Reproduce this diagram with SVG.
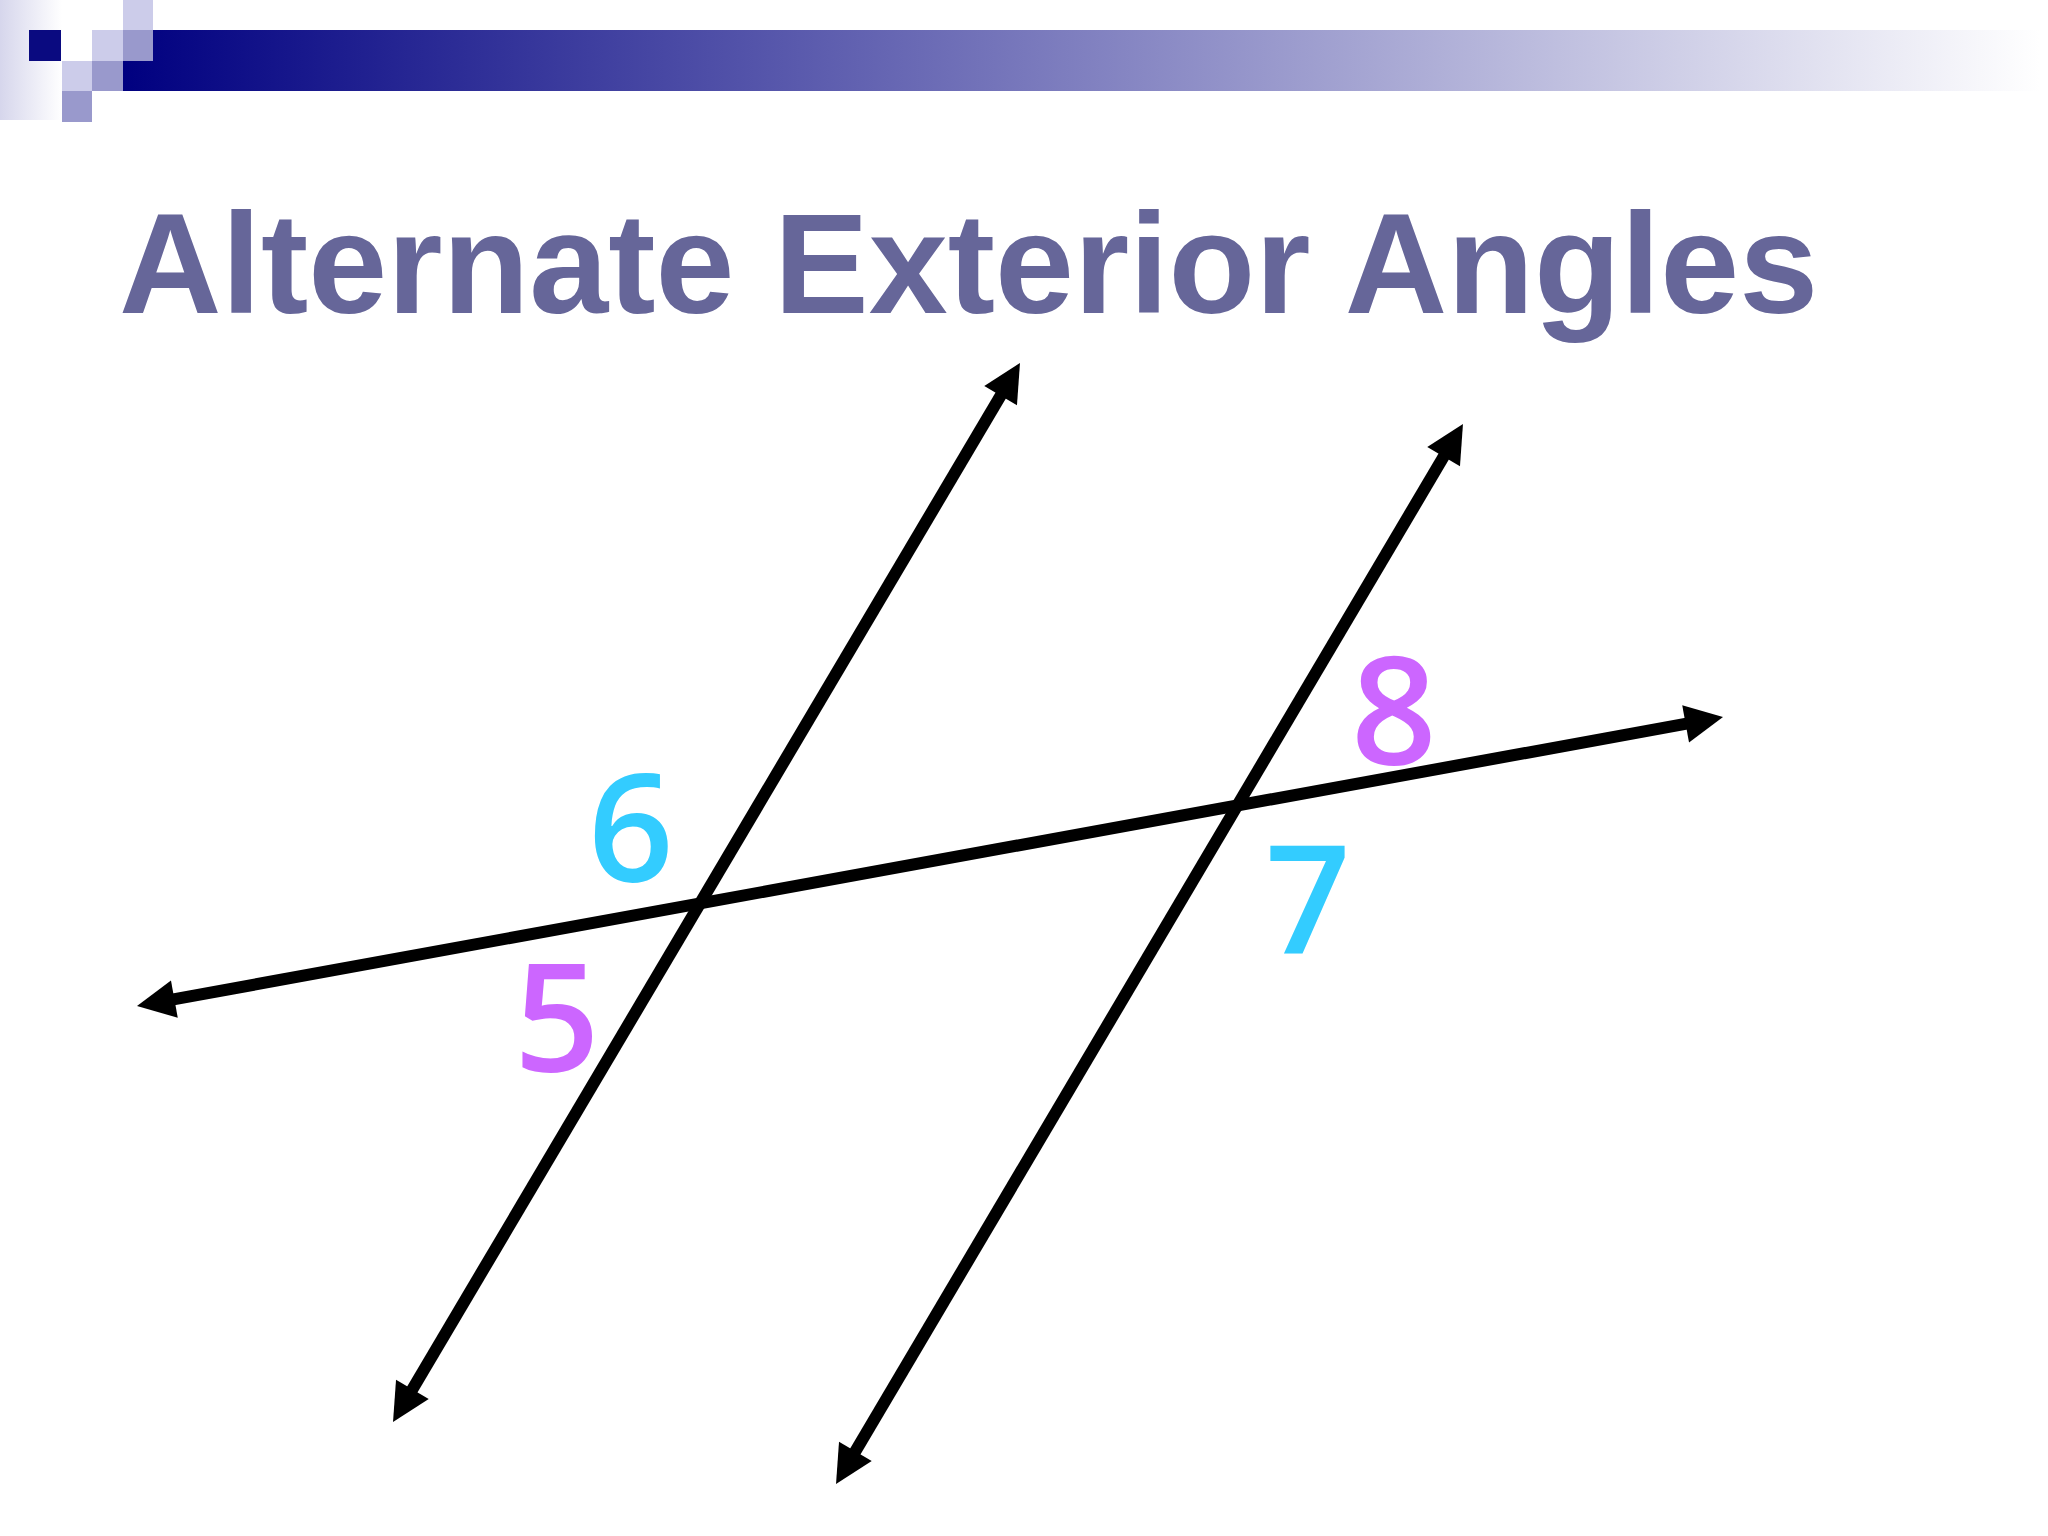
<svg xmlns="http://www.w3.org/2000/svg" width="2048" height="1536" viewBox="0 0 2048 1536">
  <defs>
    <linearGradient id="barGrad" gradientUnits="userSpaceOnUse" x1="123" y1="0" x2="2040" y2="0">
      <stop offset="0" stop-color="#000080"/>
      <stop offset="1" stop-color="#ffffff"/>
    </linearGradient>
    <linearGradient id="fadeGrad" x1="0" y1="0" x2="1" y2="0">
      <stop offset="0" stop-color="#d6d6ec"/>
      <stop offset="1" stop-color="#ffffff"/>
    </linearGradient>
    <marker id="arrow" markerUnits="userSpaceOnUse" viewBox="-10 -20 42 40" markerWidth="42" markerHeight="40" refX="0" refY="0" orient="auto-start-reverse" overflow="visible">
      <path d="M-8,-19 L30,0 L-8,19 z" fill="#000"/>
    </marker>
    <style>
      .light { fill: #ccccea; }
      .mid { fill: #9999cc; }
      .dark { fill: #0a0a80; }
      .title { font-family: "Liberation Sans", Arial, sans-serif; font-weight: bold; font-size: 142px; fill: #666699; }
      .line { stroke: #000; stroke-width: 12; fill: none; marker-start: url(#arrow); marker-end: url(#arrow); }
      .num { font-family: "Open Sans", "DejaVu Sans", sans-serif; font-size: 150px; font-weight: 600; text-anchor: middle; }
      .cyan { fill: #33ccff; }
      .purple { fill: #cc66ff; }
    </style>
  </defs>
  <rect width="2048" height="1536" fill="#ffffff"/>

  <g id="header">
    <rect x="0" y="0" width="62" height="120" fill="url(#fadeGrad)"/>
    <rect x="123" y="30" width="1925" height="61" fill="url(#barGrad)"/>
    <rect class="dark" x="29" y="30" width="32" height="31"/>
    <rect class="light" x="123" y="0" width="30" height="30"/>
    <rect class="light" x="92" y="30" width="31" height="31"/>
    <rect class="mid" x="123" y="30" width="30" height="31"/>
    <rect class="light" x="62" y="61" width="30" height="30"/>
    <rect class="mid" x="92" y="61" width="31" height="30"/>
    <rect class="mid" x="62" y="91" width="30" height="31"/>
  </g>

  <g id="title">
    <text class="title" x="119" y="313">Alternate Exterior Angles</text>
  </g>

  <g id="connectors">
    <line id="transversal" class="line" x1="166.5" y1="1000.6" x2="1693.5" y2="722.4"/>
    <line id="line-left" class="line" x1="408.3" y1="1396.2" x2="1004.7" y2="388.8"/>
    <line id="line-right" class="line" x1="851.3" y1="1458.2" x2="1447.7" y2="449.8"/>
  </g>

  <g id="angle-6"><text class="num cyan" x="631" y="882">6</text></g>
  <g id="angle-5"><text class="num purple" x="557" y="1072">5</text></g>
  <g id="angle-8"><text class="num purple" x="1394" y="765">8</text></g>
  <g id="angle-7"><text class="num cyan" x="1308" y="953">7</text></g>
</svg>
